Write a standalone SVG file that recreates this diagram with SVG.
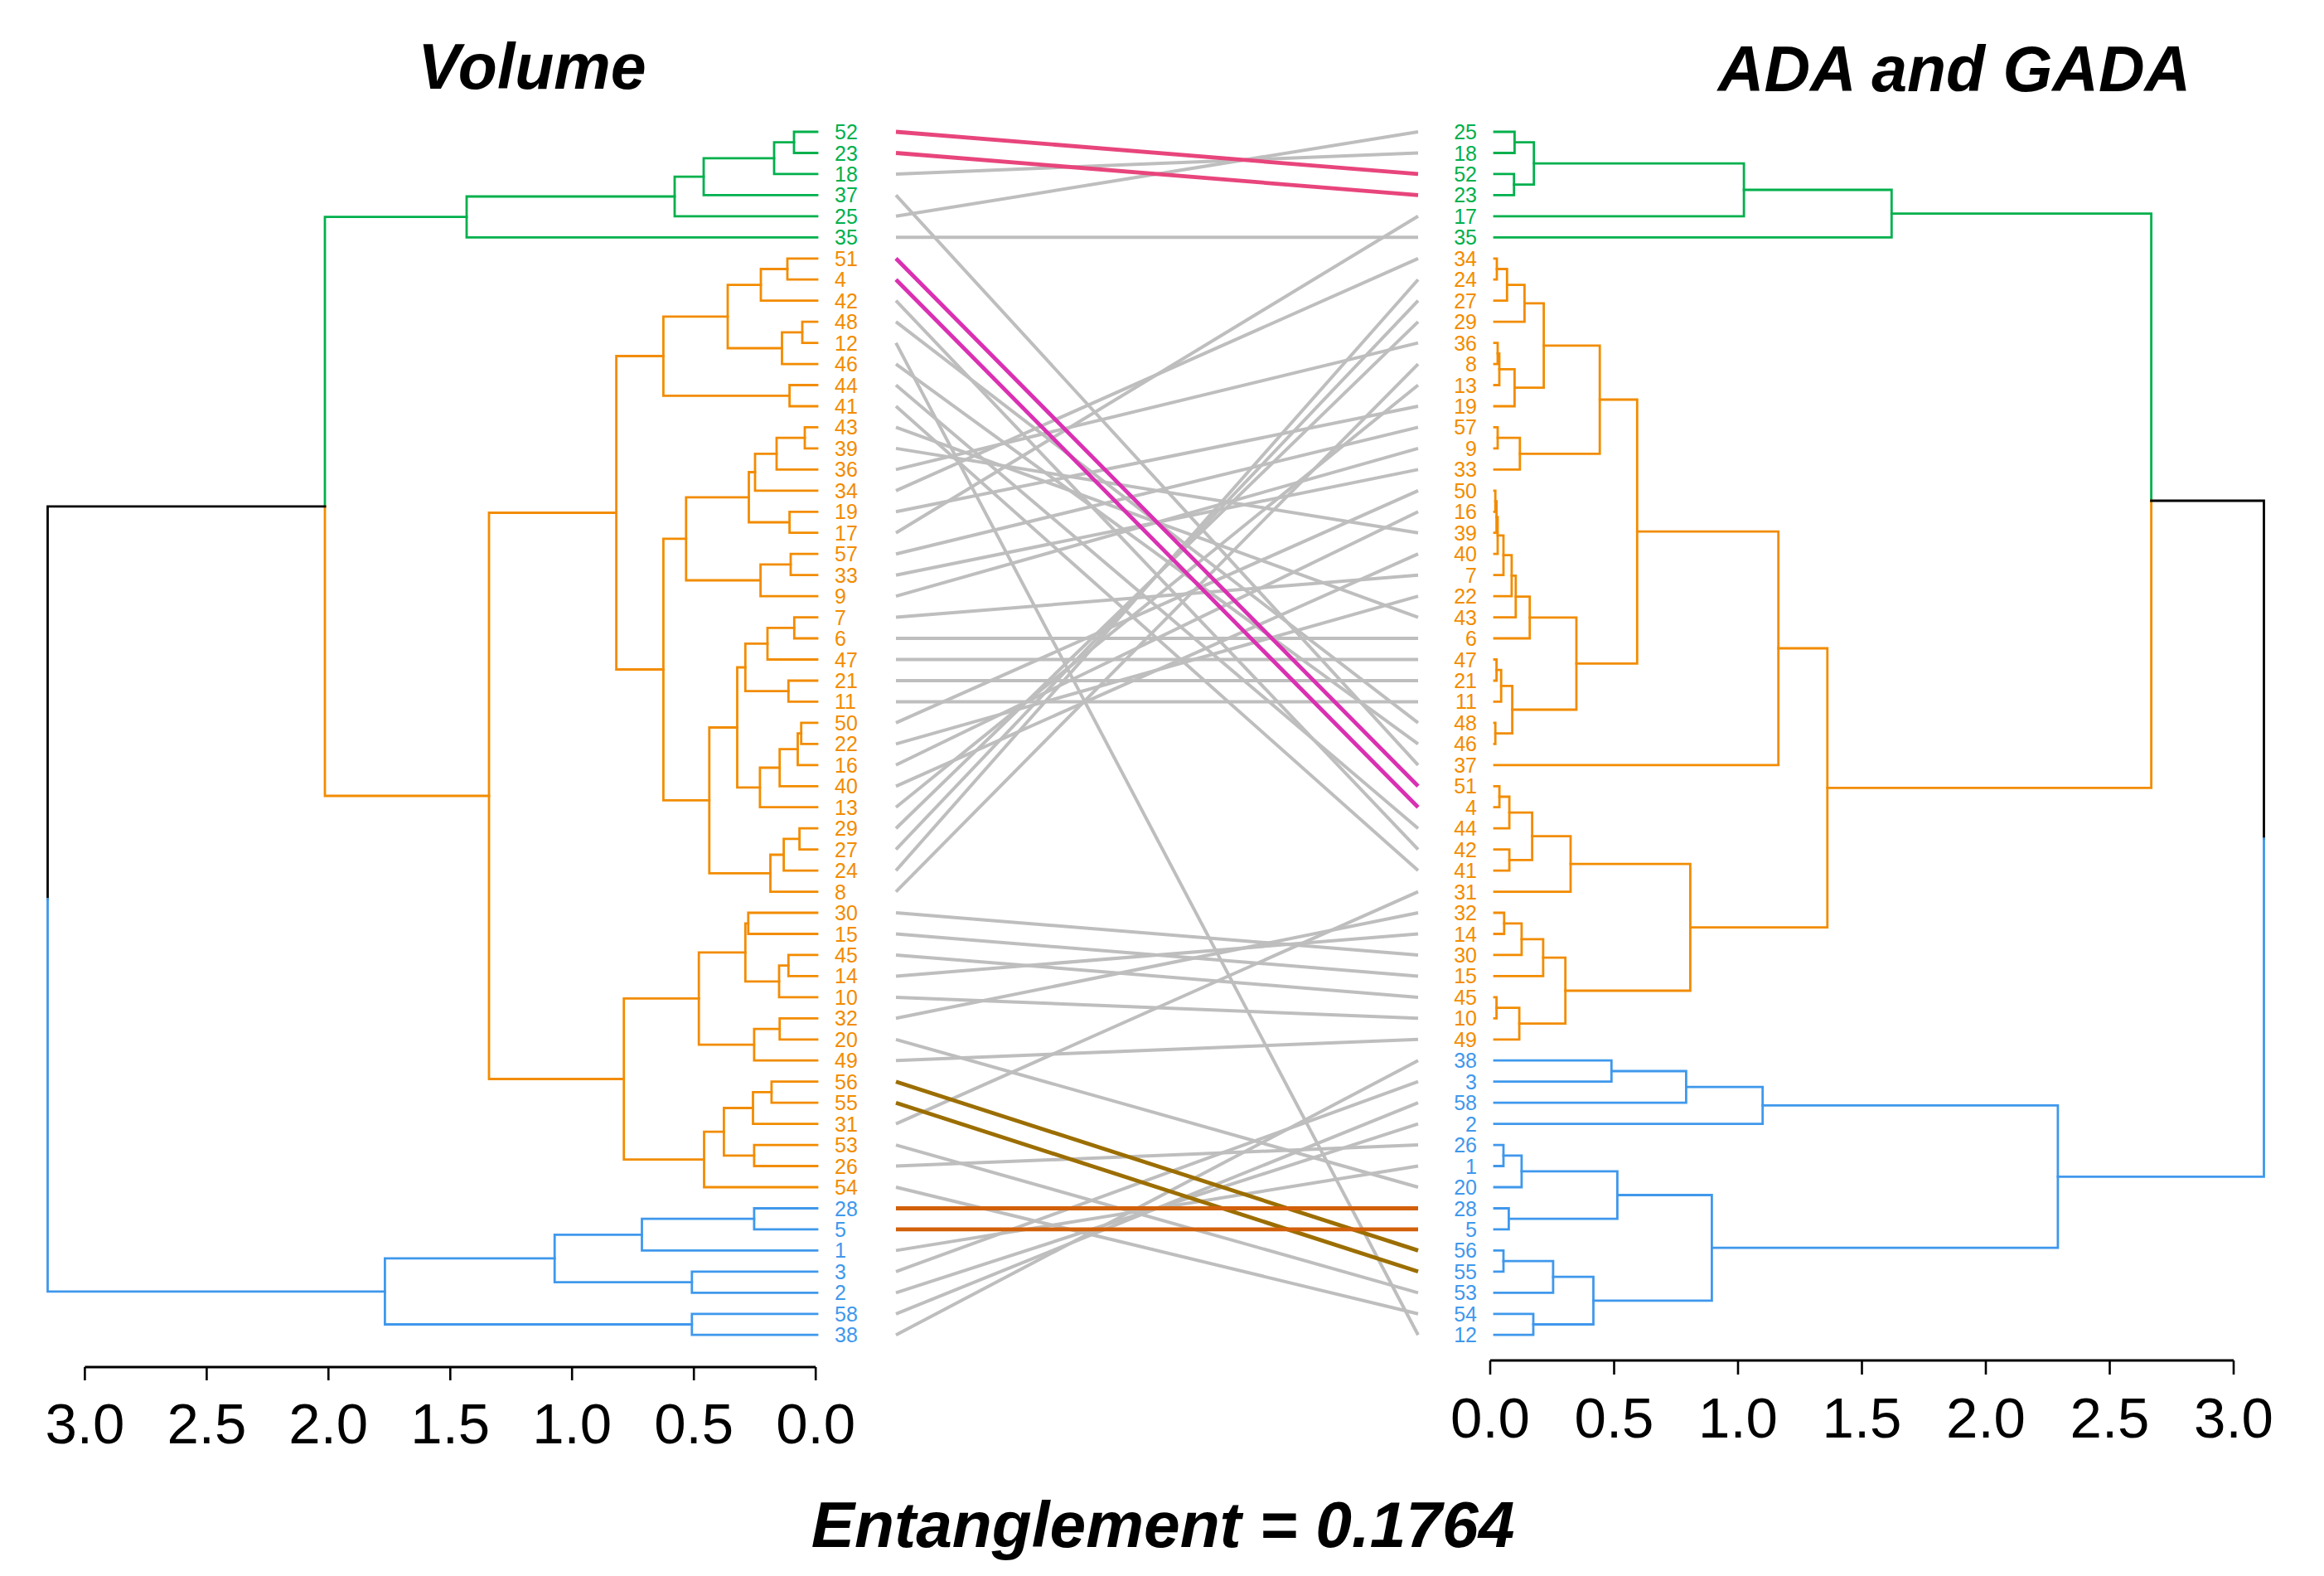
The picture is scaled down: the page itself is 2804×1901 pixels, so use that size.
<svg xmlns="http://www.w3.org/2000/svg" width="2804" height="1901" viewBox="0 0 2804 1901">
<style>
.t path{fill:none;stroke-width:2.8;stroke-linecap:square}
.g{stroke:#00B04C}.o{stroke:#F28C00}.b{stroke:#3F98EC}.k{stroke:#000}
.lbl{font-family:"Liberation Sans",Arial,sans-serif;font-size:25px}
.tg{fill:#00B04C}.to{fill:#F28C00}.tb{fill:#3F98EC}
.L{text-anchor:start}.R{text-anchor:end}
.gray line{stroke:#BEBEBE;stroke-width:4}
.col line{stroke-width:4.8}
.ax{stroke:#000;fill:none}
.axl{font-family:"Liberation Sans",Arial,sans-serif;font-size:69px;text-anchor:middle;fill:#000}
.title{font-family:"Liberation Sans",Arial,sans-serif;font-size:77px;font-weight:bold;font-style:italic;text-anchor:middle;fill:#000}
</style>
<rect width="2804" height="1901" fill="#fff"/>
<g id="titles">
<text class="title" x="642" y="107">Volume</text>
<text class="title" x="2358" y="110">ADA and GADA</text>
<text class="title" x="1403" y="1866" style="font-size:78.5px">Entanglement = 0.1764</text>
</g>
<g id="left-tree" class="t">
<path class="g" d="M986,159 H958 V184.5 H986"/>
<path class="g" d="M958,171.7 H934 V209.9 H986"/>
<path class="g" d="M934,190.8 H849 V235.4 H986"/>
<path class="g" d="M849,213.1 H814 V260.8 H986"/>
<path class="g" d="M814,237 H563 V286.3 H986"/>
<path class="o" d="M986,311.8 H950 V337.2 H986"/>
<path class="o" d="M950,324.5 H918 V362.7 H986"/>
<path class="o" d="M986,388.1 H968 V413.6 H986"/>
<path class="o" d="M968,400.9 H943.5 V439.1 H986"/>
<path class="o" d="M918,343.6 H878 V420 H943.5"/>
<path class="o" d="M986,464.5 H952.6 V490 H986"/>
<path class="o" d="M878,381.8 H800.4 V477.3 H952.6"/>
<path class="o" d="M986,515.4 H971 V540.9 H986"/>
<path class="o" d="M971,528.2 H937 V566.4 H986"/>
<path class="o" d="M937,547.3 H911 V591.8 H986"/>
<path class="o" d="M986,617.3 H952.6 V642.7 H986"/>
<path class="o" d="M911,569.5 H903.5 V630 H952.6"/>
<path class="o" d="M986,668.2 H954 V693.7 H986"/>
<path class="o" d="M954,680.9 H917.6 V719.1 H986"/>
<path class="o" d="M903.5,599.8 H827.8 V700 H917.6"/>
<path class="o" d="M986,744.6 H958.3 V770 H986"/>
<path class="o" d="M958.3,757.3 H926 V795.5 H986"/>
<path class="o" d="M986,821 H951.3 V846.4 H986"/>
<path class="o" d="M926,776.4 H899.3 V833.7 H951.3"/>
<path class="o" d="M986,871.9 H966.7 V897.3 H986"/>
<path class="o" d="M966.7,884.6 H962.5 V922.8 H986"/>
<path class="o" d="M962.5,903.7 H940.7 V948.3 H986"/>
<path class="o" d="M940.7,926 H916.9 V973.7 H986"/>
<path class="o" d="M899.3,805 H889.5 V949.8 H916.9"/>
<path class="o" d="M986,999.2 H964.6 V1024.6 H986"/>
<path class="o" d="M964.6,1011.9 H945.6 V1050.1 H986"/>
<path class="o" d="M945.6,1031 H929.5 V1075.6 H986"/>
<path class="o" d="M889.5,877.5 H855.8 V1053.3 H929.5"/>
<path class="o" d="M827.8,649.9 H800.4 V965.4 H855.8"/>
<path class="o" d="M800.4,429.5 H743.6 V807.5 H800.4"/>
<path class="o" d="M986,1101 H902.8 V1126.5 H986"/>
<path class="o" d="M986,1151.9 H951.3 V1177.4 H986"/>
<path class="o" d="M951.3,1164.7 H940 V1202.9 H986"/>
<path class="o" d="M902.8,1113.8 H899.3 V1183.8 H940"/>
<path class="o" d="M986,1228.3 H940.7 V1253.8 H986"/>
<path class="o" d="M940.7,1241.1 H909.9 V1279.2 H986"/>
<path class="o" d="M899.3,1148.8 H843.2 V1260.1 H909.9"/>
<path class="o" d="M986,1304.7 H930.9 V1330.2 H986"/>
<path class="o" d="M930.9,1317.4 H908.5 V1355.6 H986"/>
<path class="o" d="M986,1381.1 H909.9 V1406.5 H986"/>
<path class="o" d="M908.5,1336.5 H873.4 V1393.8 H909.9"/>
<path class="o" d="M873.4,1365.2 H849.5 V1432 H986"/>
<path class="o" d="M843.2,1204.4 H752.7 V1398.6 H849.5"/>
<path class="o" d="M743.6,618.5 H590 V1301.5 H752.7"/>
<path class="g" d="M563,261.6 H392 V610.8"/>
<path class="o" d="M392,610.8 V960 H590"/>
<path class="b" d="M986,1457.5 H909.9 V1482.9 H986"/>
<path class="b" d="M909.9,1470.2 H774.5 V1508.4 H986"/>
<path class="b" d="M986,1533.8 H834.8 V1559.3 H986"/>
<path class="b" d="M774.5,1489.3 H669.2 V1546.6 H834.8"/>
<path class="b" d="M986,1584.8 H834.8 V1610.2 H986"/>
<path class="b" d="M669.2,1517.9 H464.4 V1597.5 H834.8"/>
<path class="k" d="M392,610.8 H57.5 V1084.3"/>
<path class="b" d="M57.5,1084.3 V1557.8 H464.4"/>
</g>
<g id="right-tree" class="t">
<path class="g" d="M1803,159 H1827.4 V184.5 H1803"/>
<path class="g" d="M1803,209.9 H1826.7 V235.4 H1803"/>
<path class="g" d="M1827.4,171.7 H1850.7 V222.7 H1826.7"/>
<path class="g" d="M1850.7,197.2 H2104.1 V260.8 H1803"/>
<path class="g" d="M2104.1,229 H2282.3 V286.3 H1803"/>
<path class="o" d="M1803,311.8 H1806 V337.2 H1803"/>
<path class="o" d="M1806,324.5 H1818.3 V362.7 H1803"/>
<path class="o" d="M1818.3,343.6 H1839.4 V388.1 H1803"/>
<path class="o" d="M1803,413.6 H1807 V439.1 H1803"/>
<path class="o" d="M1807,426.3 H1809 V464.5 H1803"/>
<path class="o" d="M1809,445.4 H1827.4 V490 H1803"/>
<path class="o" d="M1839.4,365.9 H1862.6 V467.7 H1827.4"/>
<path class="o" d="M1803,515.4 H1807 V540.9 H1803"/>
<path class="o" d="M1807,528.2 H1833.8 V566.4 H1803"/>
<path class="o" d="M1862.6,416.8 H1930.2 V547.3 H1833.8"/>
<path class="o" d="M1803,591.8 H1804.2 V617.3 H1803"/>
<path class="o" d="M1804.2,604.6 H1805.6 V642.7 H1803"/>
<path class="o" d="M1805.6,623.7 H1807 V668.2 H1803"/>
<path class="o" d="M1807,645.9 H1814 V693.7 H1803"/>
<path class="o" d="M1814,669.7 H1823.9 V719.1 H1803"/>
<path class="o" d="M1823.9,694.4 H1828.8 V744.6 H1803"/>
<path class="o" d="M1828.8,719.6 H1845.7 V770 H1803"/>
<path class="o" d="M1803,795.5 H1805.6 V821 H1803"/>
<path class="o" d="M1805.6,808.2 H1811.2 V846.4 H1803"/>
<path class="o" d="M1803,871.9 H1804.2 V897.3 H1803"/>
<path class="o" d="M1811.2,827.3 H1824.6 V884.6 H1804.2"/>
<path class="o" d="M1845.7,744.8 H1902 V856 H1824.6"/>
<path class="o" d="M1930.2,482 H1975.3 V800.4 H1902"/>
<path class="o" d="M1975.3,641.2 H2145.7 V922.8 H1803"/>
<path class="o" d="M1803,948.3 H1809.1 V973.7 H1803"/>
<path class="o" d="M1809.1,961 H1821.1 V999.2 H1803"/>
<path class="o" d="M1803,1024.6 H1821.1 V1050.1 H1803"/>
<path class="o" d="M1821.1,980.1 H1848.6 V1037.4 H1821.1"/>
<path class="o" d="M1848.6,1008.7 H1895 V1075.6 H1803"/>
<path class="o" d="M1803,1101 H1814.8 V1126.5 H1803"/>
<path class="o" d="M1814.8,1113.8 H1835.9 V1151.9 H1803"/>
<path class="o" d="M1835.9,1132.8 H1861.9 V1177.4 H1803"/>
<path class="o" d="M1803,1202.9 H1805.6 V1228.3 H1803"/>
<path class="o" d="M1805.6,1215.6 H1833.1 V1253.8 H1803"/>
<path class="o" d="M1861.9,1155.1 H1888.7 V1234.7 H1833.1"/>
<path class="o" d="M1895,1042.2 H2039.4 V1195 H1888.7"/>
<path class="o" d="M2145.7,782 H2204.8 V1118.6 H2039.4"/>
<path class="g" d="M2282.3,257.7 H2595.6 V604"/>
<path class="o" d="M2595.6,604 V950.3 H2204.8"/>
<path class="b" d="M1803,1279.2 H1944.3 V1304.7 H1803"/>
<path class="b" d="M1944.3,1292 H2034.4 V1330.2 H1803"/>
<path class="b" d="M2034.4,1311.1 H2126.7 V1355.6 H1803"/>
<path class="b" d="M1803,1381.1 H1814 V1406.5 H1803"/>
<path class="b" d="M1814,1393.8 H1835.9 V1432 H1803"/>
<path class="b" d="M1803,1457.5 H1820.4 V1482.9 H1803"/>
<path class="b" d="M1835.9,1412.9 H1951.4 V1470.2 H1820.4"/>
<path class="b" d="M1803,1508.4 H1814 V1533.8 H1803"/>
<path class="b" d="M1814,1521.1 H1873.9 V1559.3 H1803"/>
<path class="b" d="M1803,1584.8 H1850 V1610.2 H1803"/>
<path class="b" d="M1873.9,1540.2 H1922.5 V1597.5 H1850"/>
<path class="b" d="M1951.4,1441.5 H2065.4 V1568.8 H1922.5"/>
<path class="b" d="M2126.7,1333.3 H2482.9 V1505.2 H2065.4"/>
<path class="k" d="M2595.6,604 H2731.5 V1011.6"/>
<path class="b" d="M2731.5,1011.6 V1419.3 H2482.9"/>
</g>
<g id="left-labels" class="lbl L">
<text class="tg" x="1007" y="168">52</text>
<text class="tg" x="1007" y="193.5">23</text>
<text class="tg" x="1007" y="218.9">18</text>
<text class="tg" x="1007" y="244.4">37</text>
<text class="tg" x="1007" y="269.8">25</text>
<text class="tg" x="1007" y="295.3">35</text>
<text class="to" x="1007" y="320.8">51</text>
<text class="to" x="1007" y="346.2">4</text>
<text class="to" x="1007" y="371.7">42</text>
<text class="to" x="1007" y="397.1">48</text>
<text class="to" x="1007" y="422.6">12</text>
<text class="to" x="1007" y="448.1">46</text>
<text class="to" x="1007" y="473.5">44</text>
<text class="to" x="1007" y="499">41</text>
<text class="to" x="1007" y="524.4">43</text>
<text class="to" x="1007" y="549.9">39</text>
<text class="to" x="1007" y="575.4">36</text>
<text class="to" x="1007" y="600.8">34</text>
<text class="to" x="1007" y="626.3">19</text>
<text class="to" x="1007" y="651.7">17</text>
<text class="to" x="1007" y="677.2">57</text>
<text class="to" x="1007" y="702.7">33</text>
<text class="to" x="1007" y="728.1">9</text>
<text class="to" x="1007" y="753.6">7</text>
<text class="to" x="1007" y="779">6</text>
<text class="to" x="1007" y="804.5">47</text>
<text class="to" x="1007" y="830">21</text>
<text class="to" x="1007" y="855.4">11</text>
<text class="to" x="1007" y="880.9">50</text>
<text class="to" x="1007" y="906.3">22</text>
<text class="to" x="1007" y="931.8">16</text>
<text class="to" x="1007" y="957.3">40</text>
<text class="to" x="1007" y="982.7">13</text>
<text class="to" x="1007" y="1008.2">29</text>
<text class="to" x="1007" y="1033.6">27</text>
<text class="to" x="1007" y="1059.1">24</text>
<text class="to" x="1007" y="1084.6">8</text>
<text class="to" x="1007" y="1110">30</text>
<text class="to" x="1007" y="1135.5">15</text>
<text class="to" x="1007" y="1160.9">45</text>
<text class="to" x="1007" y="1186.4">14</text>
<text class="to" x="1007" y="1211.9">10</text>
<text class="to" x="1007" y="1237.3">32</text>
<text class="to" x="1007" y="1262.8">20</text>
<text class="to" x="1007" y="1288.2">49</text>
<text class="to" x="1007" y="1313.7">56</text>
<text class="to" x="1007" y="1339.2">55</text>
<text class="to" x="1007" y="1364.6">31</text>
<text class="to" x="1007" y="1390.1">53</text>
<text class="to" x="1007" y="1415.5">26</text>
<text class="to" x="1007" y="1441">54</text>
<text class="tb" x="1007" y="1466.5">28</text>
<text class="tb" x="1007" y="1491.9">5</text>
<text class="tb" x="1007" y="1517.4">1</text>
<text class="tb" x="1007" y="1542.8">3</text>
<text class="tb" x="1007" y="1568.3">2</text>
<text class="tb" x="1007" y="1593.8">58</text>
<text class="tb" x="1007" y="1619.2">38</text>
</g>
<g id="right-labels" class="lbl R">
<text class="tg" x="1782" y="168">25</text>
<text class="tg" x="1782" y="193.5">18</text>
<text class="tg" x="1782" y="218.9">52</text>
<text class="tg" x="1782" y="244.4">23</text>
<text class="tg" x="1782" y="269.8">17</text>
<text class="tg" x="1782" y="295.3">35</text>
<text class="to" x="1782" y="320.8">34</text>
<text class="to" x="1782" y="346.2">24</text>
<text class="to" x="1782" y="371.7">27</text>
<text class="to" x="1782" y="397.1">29</text>
<text class="to" x="1782" y="422.6">36</text>
<text class="to" x="1782" y="448.1">8</text>
<text class="to" x="1782" y="473.5">13</text>
<text class="to" x="1782" y="499">19</text>
<text class="to" x="1782" y="524.4">57</text>
<text class="to" x="1782" y="549.9">9</text>
<text class="to" x="1782" y="575.4">33</text>
<text class="to" x="1782" y="600.8">50</text>
<text class="to" x="1782" y="626.3">16</text>
<text class="to" x="1782" y="651.7">39</text>
<text class="to" x="1782" y="677.2">40</text>
<text class="to" x="1782" y="702.7">7</text>
<text class="to" x="1782" y="728.1">22</text>
<text class="to" x="1782" y="753.6">43</text>
<text class="to" x="1782" y="779">6</text>
<text class="to" x="1782" y="804.5">47</text>
<text class="to" x="1782" y="830">21</text>
<text class="to" x="1782" y="855.4">11</text>
<text class="to" x="1782" y="880.9">48</text>
<text class="to" x="1782" y="906.3">46</text>
<text class="to" x="1782" y="931.8">37</text>
<text class="to" x="1782" y="957.3">51</text>
<text class="to" x="1782" y="982.7">4</text>
<text class="to" x="1782" y="1008.2">44</text>
<text class="to" x="1782" y="1033.6">42</text>
<text class="to" x="1782" y="1059.1">41</text>
<text class="to" x="1782" y="1084.6">31</text>
<text class="to" x="1782" y="1110">32</text>
<text class="to" x="1782" y="1135.5">14</text>
<text class="to" x="1782" y="1160.9">30</text>
<text class="to" x="1782" y="1186.4">15</text>
<text class="to" x="1782" y="1211.9">45</text>
<text class="to" x="1782" y="1237.3">10</text>
<text class="to" x="1782" y="1262.8">49</text>
<text class="tb" x="1782" y="1288.2">38</text>
<text class="tb" x="1782" y="1313.7">3</text>
<text class="tb" x="1782" y="1339.2">58</text>
<text class="tb" x="1782" y="1364.6">2</text>
<text class="tb" x="1782" y="1390.1">26</text>
<text class="tb" x="1782" y="1415.5">1</text>
<text class="tb" x="1782" y="1441">20</text>
<text class="tb" x="1782" y="1466.5">28</text>
<text class="tb" x="1782" y="1491.9">5</text>
<text class="tb" x="1782" y="1517.4">56</text>
<text class="tb" x="1782" y="1542.8">55</text>
<text class="tb" x="1782" y="1568.3">53</text>
<text class="tb" x="1782" y="1593.8">54</text>
<text class="tb" x="1782" y="1619.2">12</text>
</g>
<g id="connectors">
<g class="gray">
<line x1="1081" y1="209.9" x2="1711" y2="184.5"/>
<line x1="1081" y1="235.4" x2="1711" y2="922.8"/>
<line x1="1081" y1="260.8" x2="1711" y2="159"/>
<line x1="1081" y1="286.3" x2="1711" y2="286.3"/>
<line x1="1081" y1="362.7" x2="1711" y2="1024.6"/>
<line x1="1081" y1="388.1" x2="1711" y2="871.9"/>
<line x1="1081" y1="413.6" x2="1711" y2="1610.2"/>
<line x1="1081" y1="439.1" x2="1711" y2="897.3"/>
<line x1="1081" y1="464.5" x2="1711" y2="999.2"/>
<line x1="1081" y1="490" x2="1711" y2="1050.1"/>
<line x1="1081" y1="515.4" x2="1711" y2="744.6"/>
<line x1="1081" y1="540.9" x2="1711" y2="642.7"/>
<line x1="1081" y1="566.4" x2="1711" y2="413.6"/>
<line x1="1081" y1="591.8" x2="1711" y2="311.8"/>
<line x1="1081" y1="617.3" x2="1711" y2="490"/>
<line x1="1081" y1="642.7" x2="1711" y2="260.8"/>
<line x1="1081" y1="668.2" x2="1711" y2="515.4"/>
<line x1="1081" y1="693.7" x2="1711" y2="566.4"/>
<line x1="1081" y1="719.1" x2="1711" y2="540.9"/>
<line x1="1081" y1="744.6" x2="1711" y2="693.7"/>
<line x1="1081" y1="770" x2="1711" y2="770"/>
<line x1="1081" y1="795.5" x2="1711" y2="795.5"/>
<line x1="1081" y1="821" x2="1711" y2="821"/>
<line x1="1081" y1="846.4" x2="1711" y2="846.4"/>
<line x1="1081" y1="871.9" x2="1711" y2="591.8"/>
<line x1="1081" y1="897.3" x2="1711" y2="719.1"/>
<line x1="1081" y1="922.8" x2="1711" y2="617.3"/>
<line x1="1081" y1="948.3" x2="1711" y2="668.2"/>
<line x1="1081" y1="973.7" x2="1711" y2="464.5"/>
<line x1="1081" y1="999.2" x2="1711" y2="388.1"/>
<line x1="1081" y1="1024.6" x2="1711" y2="362.7"/>
<line x1="1081" y1="1050.1" x2="1711" y2="337.2"/>
<line x1="1081" y1="1075.6" x2="1711" y2="439.1"/>
<line x1="1081" y1="1101" x2="1711" y2="1151.9"/>
<line x1="1081" y1="1126.5" x2="1711" y2="1177.4"/>
<line x1="1081" y1="1151.9" x2="1711" y2="1202.9"/>
<line x1="1081" y1="1177.4" x2="1711" y2="1126.5"/>
<line x1="1081" y1="1202.9" x2="1711" y2="1228.3"/>
<line x1="1081" y1="1228.3" x2="1711" y2="1101"/>
<line x1="1081" y1="1253.8" x2="1711" y2="1432"/>
<line x1="1081" y1="1279.2" x2="1711" y2="1253.8"/>
<line x1="1081" y1="1355.6" x2="1711" y2="1075.6"/>
<line x1="1081" y1="1381.1" x2="1711" y2="1559.3"/>
<line x1="1081" y1="1406.5" x2="1711" y2="1381.1"/>
<line x1="1081" y1="1432" x2="1711" y2="1584.8"/>
<line x1="1081" y1="1508.4" x2="1711" y2="1406.5"/>
<line x1="1081" y1="1533.8" x2="1711" y2="1304.7"/>
<line x1="1081" y1="1559.3" x2="1711" y2="1355.6"/>
<line x1="1081" y1="1584.8" x2="1711" y2="1330.2"/>
<line x1="1081" y1="1610.2" x2="1711" y2="1279.2"/>
</g>
<g class="col">
<line stroke="#E8457C" x1="1081" y1="159" x2="1711" y2="209.9"/>
<line stroke="#E8457C" x1="1081" y1="184.5" x2="1711" y2="235.4"/>
<line stroke="#DA30B2" x1="1081" y1="311.8" x2="1711" y2="948.3"/>
<line stroke="#DA30B2" x1="1081" y1="337.2" x2="1711" y2="973.7"/>
<line stroke="#9C6E00" x1="1081" y1="1304.7" x2="1711" y2="1508.4"/>
<line stroke="#9C6E00" x1="1081" y1="1330.2" x2="1711" y2="1533.8"/>
<line stroke="#D2600A" x1="1081" y1="1457.5" x2="1711" y2="1457.5"/>
<line stroke="#D2600A" x1="1081" y1="1482.9" x2="1711" y2="1482.9"/>
</g>
</g>
<g id="left-axis">
<path class="ax" stroke-width="3.2" d="M102.4,1649 H984.2"/>
<path class="ax" stroke-width="2.6" d="M102.4,1649 V1665 M249.4,1649 V1665 M396.3,1649 V1665 M543.3,1649 V1665 M690.2,1649 V1665 M837.2,1649 V1665 M984.2,1649 V1665"/>
<text class="axl" x="102.4" y="1741">3.0</text>
<text class="axl" x="249.4" y="1741">2.5</text>
<text class="axl" x="396.3" y="1741">2.0</text>
<text class="axl" x="543.3" y="1741">1.5</text>
<text class="axl" x="690.2" y="1741">1.0</text>
<text class="axl" x="837.2" y="1741">0.5</text>
<text class="axl" x="984.2" y="1741">0.0</text>
</g>
<g id="right-axis">
<path class="ax" stroke-width="3.2" d="M1798,1641 H2695"/>
<path class="ax" stroke-width="2.6" d="M1798,1641 V1658 M1947.5,1641 V1658 M2097,1641 V1658 M2246.5,1641 V1658 M2396,1641 V1658 M2545.5,1641 V1658 M2695,1641 V1658"/>
<text class="axl" x="1798" y="1734">0.0</text>
<text class="axl" x="1947.5" y="1734">0.5</text>
<text class="axl" x="2097" y="1734">1.0</text>
<text class="axl" x="2246.5" y="1734">1.5</text>
<text class="axl" x="2396" y="1734">2.0</text>
<text class="axl" x="2545.5" y="1734">2.5</text>
<text class="axl" x="2695" y="1734">3.0</text>
</g>
</svg>
